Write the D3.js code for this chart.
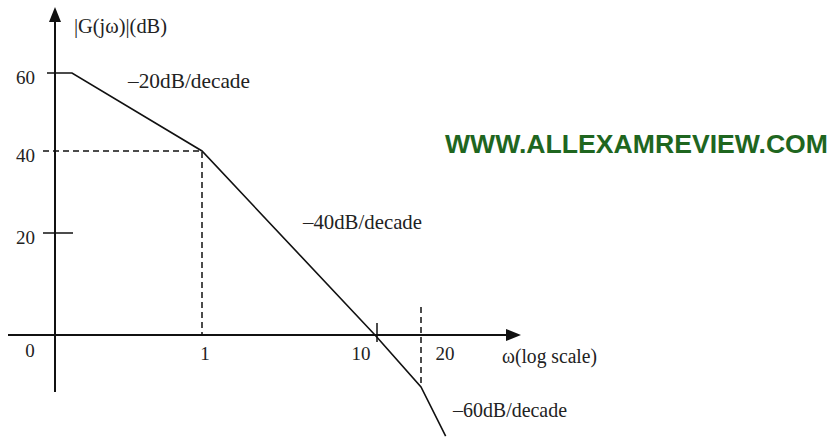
<!DOCTYPE html>
<html>
<head>
<meta charset="utf-8">
<script src="https://d3js.org/d3.v7.min.js"></script>
<style>
    body { margin: 0; background: #fff; }
    svg { display: block; }
    .lbl { font-family: "Liberation Serif", "Times New Roman", serif; fill: #222; }
</style>
</head>
<body>
<svg id="chart" width="831" height="441"></svg>
<script>
// asymptotic Bode magnitude (break points)
const omega = [0.08, 0.1, 1, 10, 20, 29];
const magDb = [60, 60, 40, 0, -12, -21.5];

const yTicks = [60, 40, 20];
const xTicks = [1, 10, 20];
const slopeLabels = ["\u201320dB/decade", "\u201340dB/decade", "\u201360dB/decade"];

const svg = d3.select("#chart");

// hand-drawn sketch, so scales are piecewise
const x = d3.scaleLog()
    .domain([0.08, 0.1, 1, 10, 20])
    .range([55, 72, 202, 375, 421]);
const y = d3.scaleLinear()
    .domain([-24, -12, 0, 20, 40, 60])
    .range([449, 387, 335, 233, 151, 73]);

const x0 = x(0.08), y0 = y(0);

// axes
svg.append("line").attr("x1", 8).attr("x2", 510).attr("y1", y0).attr("y2", y0)
    .attr("stroke", "#111").attr("stroke-width", 2);
svg.append("path").attr("d", `M521,${y0} L506,${y0 - 6} L506,${y0 + 6} Z`).attr("fill", "#111");
svg.append("line").attr("x1", x0).attr("x2", x0).attr("y1", 18).attr("y2", 392)
    .attr("stroke", "#111").attr("stroke-width", 2);
svg.append("path").attr("d", `M${x0},7 L${x0 - 6},22 L${x0 + 6},22 Z`).attr("fill", "#111");

// y ticks
svg.append("line").attr("x1", 47).attr("x2", x0).attr("y1", y(60)).attr("y2", y(60))
    .attr("stroke", "#111").attr("stroke-width", 1.5);
svg.append("line").attr("x1", 43).attr("x2", 73).attr("y1", y(20)).attr("y2", y(20))
    .attr("stroke", "#111").attr("stroke-width", 1.5);
// dashed guide to the 40 dB / w=1 corner
svg.append("path")
    .attr("d", `M43,${y(40)} H${x(1)} V${y0}`)
    .attr("fill", "none").attr("stroke", "#111").attr("stroke-width", 1.5)
    .attr("stroke-dasharray", "6,4");
// dashed at w=20
svg.append("line").attr("x1", x(20)).attr("x2", x(20)).attr("y1", 307).attr("y2", y(-12))
    .attr("stroke", "#111").attr("stroke-width", 1.5).attr("stroke-dasharray", "6,4");
// tick at 10
svg.append("line").attr("x1", x(10) + 2).attr("x2", x(10) + 2).attr("y1", y0 - 12).attr("y2", y0 + 7)
    .attr("stroke", "#111").attr("stroke-width", 1.5);

svg.selectAll(".ytl").data(yTicks).enter().append("text")
    .attr("class", "lbl").attr("x", 35).attr("y", d => y(d) + 11)
    .attr("text-anchor", "end").attr("font-size", 19).text(d => d);

svg.append("text").attr("class", "lbl").attr("x", 30).attr("y", 357)
    .attr("text-anchor", "middle").attr("font-size", 19).text("0");

const xLabelShift = { 1: 3, 10: -14, 20: 24 };
svg.selectAll(".xtl").data(xTicks).enter().append("text")
    .attr("class", "lbl").attr("x", d => x(d) + xLabelShift[d]).attr("y", 360)
    .attr("text-anchor", "middle").attr("font-size", 19).text(d => d);

// curve
const line = d3.line().x((d, i) => x(omega[i])).y(d => y(d));
svg.append("path").datum(magDb).attr("d", line)
    .attr("fill", "none").attr("stroke", "#111").attr("stroke-width", 1.6);

// texts
svg.append("text").attr("class", "lbl").attr("x", 74).attr("y", 33)
    .attr("font-size", 20).attr("textLength", 93).attr("lengthAdjust", "spacingAndGlyphs")
    .text("|G(j\u03c9)|(dB)");
svg.append("text").attr("class", "lbl").attr("x", 502).attr("y", 363)
    .attr("font-size", 20).attr("textLength", 95).attr("lengthAdjust", "spacingAndGlyphs")
    .text("\u03c9(log scale)");

const slopePos = [[128, 88], [303, 229], [453, 417]];
svg.selectAll(".slope").data(slopeLabels).enter().append("text")
    .attr("class", "lbl").attr("x", (d, i) => slopePos[i][0]).attr("y", (d, i) => slopePos[i][1])
    .attr("font-size", 21).attr("textLength", (d, i) => [122, 119, 114][i])
    .attr("lengthAdjust", "spacingAndGlyphs")
    .text(d => d);

svg.append("text").attr("x", 445).attr("y", 153)
    .attr("font-family", "Liberation Sans, Arial, sans-serif").attr("font-weight", "bold")
    .attr("font-size", 25).attr("fill", "#1f661f").attr("textLength", 383)
    .attr("lengthAdjust", "spacingAndGlyphs")
    .text("WWW.ALLEXAMREVIEW.COM");
</script>
</body>
</html>
